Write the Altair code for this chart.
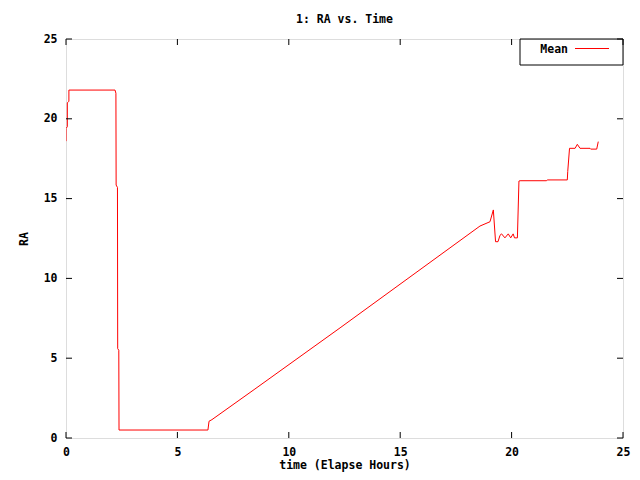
import altair as alt
import pandas as pd

# Data
time_h = [0.0, 0.0, 0.06, 0.06, 0.13, 0.13, 2.2, 2.24, 2.25, 2.31, 2.32, 2.37, 2.38,
          6.37, 6.42, 6.55, 8.48, 12.3, 18.58, 19.03, 19.18, 19.28, 19.39, 19.48,
          19.55, 19.70, 19.85, 19.96, 20.07, 20.13, 20.26, 20.33, 20.38, 21.57, 21.6,
          22.5, 22.52, 22.6, 22.85, 22.95, 23.07, 23.52, 23.55, 23.82, 23.89]
ra_vals = [18.6, 19.4, 19.5, 21.0, 21.1, 21.8, 21.8, 21.6, 15.85, 15.7, 5.6, 5.5, 0.5,
           0.5, 1.05, 1.15, 3.07, 6.9, 13.28, 13.55, 14.29, 12.3, 12.3, 12.7,
           12.79, 12.54, 12.79, 12.54, 12.79, 12.54, 12.54, 16.1, 16.12, 16.12, 16.17,
           16.17, 16.7, 18.15, 18.15, 18.4, 18.15, 18.15, 18.1, 18.1, 18.57]
x_ticks = [0, 5, 10, 15, 20, 25]
y_ticks = [0, 5, 10, 15, 20, 25]
series_name = ["Mean"]

FONT = "DejaVu Sans Mono"
FS = 11.5
W, H = 557, 399

df = pd.DataFrame({"time": time_h, "ra": ra_vals, "idx": range(len(time_h))})
xt = pd.DataFrame({"time": x_ticks})
yt = pd.DataFrame({"ra": y_ticks})
lg = pd.DataFrame({"label": series_name})

xscale = alt.Scale(domain=[0, 25], nice=False, zero=False)
yscale = alt.Scale(domain=[0, 25], nice=False, zero=False)

xaxis = alt.Axis(values=x_ticks, tickSize=0, domain=False, grid=False, labelPadding=8,
                 labelFont=FONT, labelFontSize=FS, labelFontWeight="bold", labelColor="black",
                 title="time (Elapse Hours)", titleFont=FONT, titleFontSize=FS,
                 titleFontWeight="bold", titleColor="black", titlePadding=2,
                 labelFlush=False)
yaxis = alt.Axis(values=y_ticks, tickSize=0, domain=False, grid=False, labelPadding=9,
                 labelFont=FONT, labelFontSize=FS, labelFontWeight="bold", labelColor="black",
                 title="RA", titleFont=FONT, titleFontSize=FS, titleFontWeight="bold",
                 titleColor="black", titlePadding=14, labelFlush=False)

line = alt.Chart(df).mark_line(color="#ff0000", strokeWidth=1, clip=True).encode(
    x=alt.X("time:Q", scale=xscale, axis=xaxis),
    y=alt.Y("ra:Q", scale=yscale, axis=yaxis),
    order="idx:Q",
)

tick_len = 6
bt = alt.Chart(xt).mark_rule(color="black", strokeWidth=1).encode(
    x=alt.X("time:Q", scale=xscale), y=alt.value(H), y2=alt.value(H - tick_len))
tt = alt.Chart(xt).mark_rule(color="black", strokeWidth=1).encode(
    x=alt.X("time:Q", scale=xscale), y=alt.value(0), y2=alt.value(tick_len))
lt = alt.Chart(yt).mark_rule(color="black", strokeWidth=1).encode(
    y=alt.Y("ra:Q", scale=yscale), x=alt.value(0), x2=alt.value(tick_len))
rt = alt.Chart(yt).mark_rule(color="black", strokeWidth=1).encode(
    y=alt.Y("ra:Q", scale=yscale), x=alt.value(W), x2=alt.value(W - tick_len))

box = alt.Chart(lg).mark_rect(fill="white", fillOpacity=0, stroke="black", strokeWidth=1).encode(
    x=alt.value(454), x2=alt.value(W), y=alt.value(0), y2=alt.value(26))
ltext = alt.Chart(lg).mark_text(align="right", baseline="middle", font=FONT, fontSize=FS,
                                fontWeight="bold", color="black").encode(
    text="label:N", x=alt.value(502), y=alt.value(10.5))
lline = alt.Chart(lg).mark_rule(color="#ff0000", strokeWidth=1).encode(
    x=alt.value(509), x2=alt.value(543), y=alt.value(9.5))

chart = alt.layer(line, bt, tt, lt, rt, box, ltext, lline).properties(
    width=W, height=H,
    title=alt.Title("1: RA vs. Time", font=FONT, fontSize=FS, fontWeight="bold",
                    color="black", offset=8, anchor="middle"),
    autosize=alt.AutoSizeParams(type="none"),
    padding={"left": 58, "top": 31, "right": 9, "bottom": 34},
).configure_view(stroke="black", strokeWidth=1).configure(background="white")

chart.save("out.html", embed_options={"renderer": "svg", "actions": False})
